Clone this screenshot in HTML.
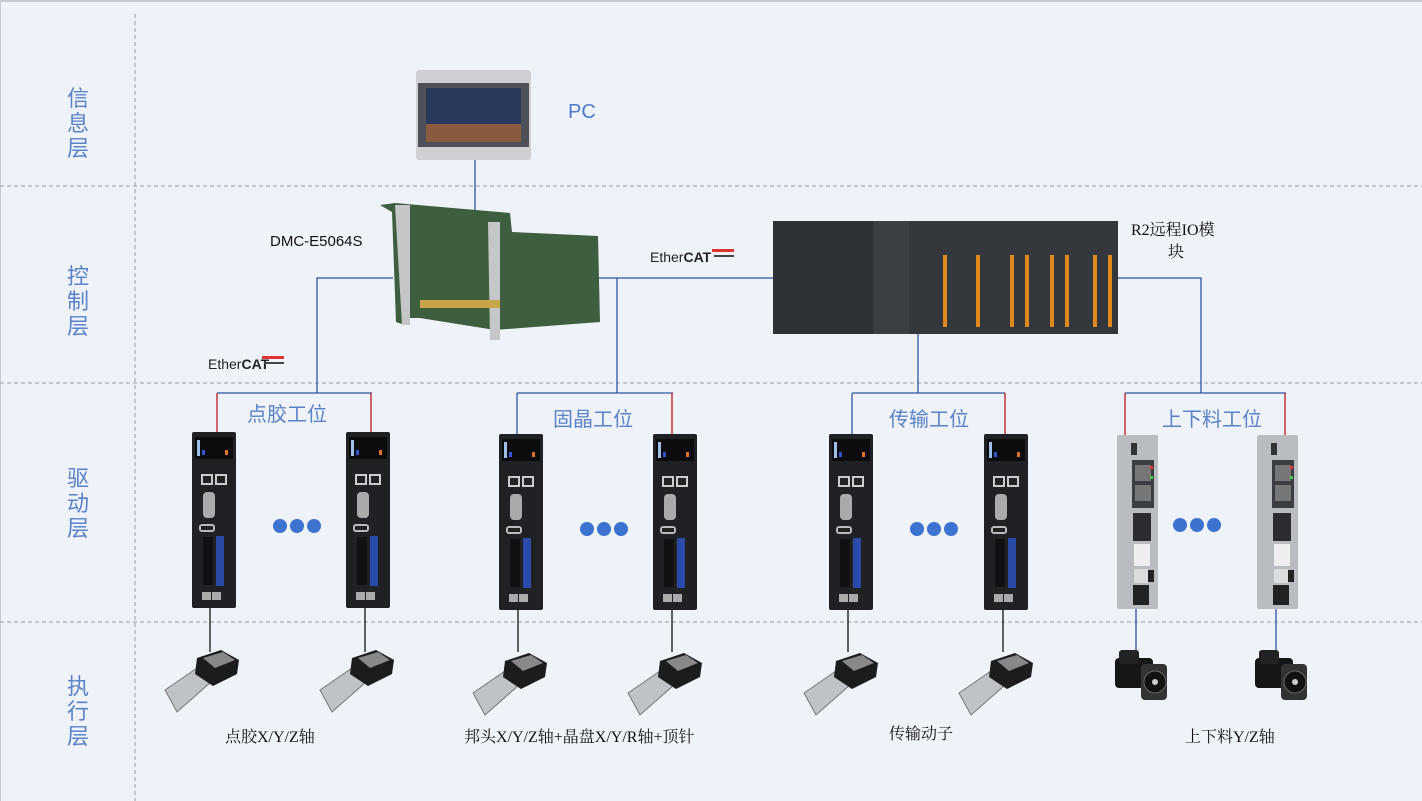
<!DOCTYPE html>
<html><head><meta charset="utf-8"><style>
html,body{margin:0;padding:0;background:#eef2f9;}
svg{display:block}
.lay{font-family:"Liberation Sans","Noto Sans CJK SC",sans-serif;font-size:22px;fill:#5b82c6;}
.st{font-family:"Liberation Sans","Noto Sans CJK SC",sans-serif;font-size:20px;fill:#5b82c6;}
.bl{font-family:"Liberation Serif","Noto Serif CJK SC",serif;font-size:16px;fill:#111;}
</style></head><body>
<svg width="1422" height="801" viewBox="0 0 1422 801" xmlns="http://www.w3.org/2000/svg">
<defs>
<g id="drv">
<rect x="0" y="0" width="44" height="176" rx="2" fill="#1f2124"/>
<rect x="3" y="5" width="38" height="22" fill="#0c0c0e"/>
<rect x="5" y="8" width="3" height="16" fill="#9fc0e8"/>
<rect x="10" y="18" width="3" height="5" fill="#3355cc"/>
<rect x="33" y="18" width="3" height="5" fill="#e0702a"/>
<rect x="9" y="42" width="12" height="11" fill="#ccc"/><rect x="23" y="42" width="12" height="11" fill="#ccc"/>
<rect x="11" y="44" width="8" height="7" fill="#222"/><rect x="25" y="44" width="8" height="7" fill="#222"/>
<rect x="11" y="60" width="12" height="26" rx="4" fill="#aaa"/>
<rect x="7" y="92" width="16" height="8" rx="3" fill="#bbb"/><rect x="9" y="94" width="12" height="4" fill="#222"/>
<rect x="11" y="105" width="10" height="48" fill="#111"/>
<rect x="24" y="104" width="8" height="50" fill="#2a4aa8"/>
<rect x="10" y="160" width="9" height="8" fill="#aaa"/><rect x="20" y="160" width="9" height="8" fill="#aaa"/>
</g>
<g id="io">
<rect x="0" y="0" width="41" height="174" rx="2" fill="#b9bcc0"/>
<rect x="14" y="8" width="6" height="12" fill="#333"/>
<rect x="15" y="25" width="22" height="48" fill="#3a3d42"/>
<rect x="18" y="30" width="16" height="16" fill="#777"/><rect x="18" y="50" width="16" height="16" fill="#777"/>
<rect x="33" y="31" width="3" height="3" fill="#e33"/><rect x="33" y="41" width="3" height="3" fill="#4c4"/>
<rect x="16" y="78" width="18" height="28" fill="#2a2c30"/>
<rect x="17" y="109" width="16" height="22" fill="#eee"/>
<rect x="17" y="134" width="14" height="14" fill="#ddd"/><rect x="31" y="135" width="6" height="12" fill="#222"/>
<rect x="16" y="150" width="16" height="20" fill="#222"/>
</g>
<g id="stg">
<polygon points="0,38 35,14 46,30 12,60" fill="#bfc2c6" stroke="#777" stroke-width="1"/>
<polygon points="32,6 56,-2 74,8 72,22 48,34 30,22" fill="#1c1c1e"/>
<polygon points="38,6 58,0 70,8 50,16" fill="#888"/>
</g>
<g id="mot">
<rect x="0" y="8" width="38" height="30" rx="4" fill="#161616"/>
<rect x="4" y="0" width="20" height="14" rx="3" fill="#222"/>
<rect x="26" y="14" width="26" height="36" rx="4" fill="#333"/>
<circle cx="40" cy="32" r="11" fill="#111" stroke="#666"/>
<circle cx="40" cy="32" r="3" fill="#ccc"/>
</g>
<g id="dots"><circle cx="0" cy="0" r="7" fill="#3d72d0"/><circle cx="17" cy="0" r="7" fill="#3d72d0"/><circle cx="34" cy="0" r="7" fill="#3d72d0"/></g>
</defs>
<rect x="0" y="0" width="1422" height="2" fill="#c8ccd2"/>
<rect x="0" y="0" width="1" height="801" fill="#c8ccd2"/>
<g stroke="#9a9ea4" stroke-dasharray="4,3" stroke-width="1">
<line x1="135" y1="14" x2="135" y2="801"/>
<line x1="0" y1="186" x2="1422" y2="186"/>
<line x1="0" y1="383" x2="1422" y2="383"/>
<line x1="0" y1="622" x2="1422" y2="622"/>
</g>
<g class="lay" text-anchor="middle">
<text x="78" y="106">信</text><text x="78" y="131">息</text><text x="78" y="156">层</text>
<text x="78" y="284">控</text><text x="78" y="309">制</text><text x="78" y="334">层</text>
<text x="78" y="486">驱</text><text x="78" y="511">动</text><text x="78" y="536">层</text>
<text x="78" y="694">执</text><text x="78" y="719">行</text><text x="78" y="744">层</text>
</g>
<!-- connectors -->
<g stroke="#2f54a3" stroke-width="1.3" fill="none">
<line x1="475" y1="160" x2="475" y2="210"/>
<polyline points="393,278 317,278 317,393"/>
<line x1="597" y1="278" x2="775" y2="278"/>
<line x1="617" y1="278" x2="617" y2="393"/>
<line x1="918" y1="333" x2="918" y2="393"/>
<polyline points="1117,278 1201,278 1201,393"/>
<line x1="217" y1="393" x2="372" y2="393"/>
<line x1="517" y1="393" x2="673" y2="393"/>
<line x1="852" y1="393" x2="1005" y2="393"/>
<line x1="1125" y1="393" x2="1286" y2="393"/>
<line x1="517" y1="393" x2="517" y2="434"/>
<line x1="852" y1="393" x2="852" y2="434"/>
<line x1="1136" y1="608" x2="1136" y2="650"/>
<line x1="1276" y1="608" x2="1276" y2="650"/>
</g>
<g stroke="#c0141c" stroke-width="1.3">
<line x1="217" y1="393" x2="217" y2="434"/>
<line x1="371" y1="393" x2="371" y2="434"/>
<line x1="672" y1="393" x2="672" y2="434"/>
<line x1="1005" y1="393" x2="1005" y2="434"/>
<line x1="1125" y1="393" x2="1125" y2="436"/>
<line x1="1285" y1="393" x2="1285" y2="436"/>
</g>
<g stroke="#111" stroke-width="1.3">
<line x1="210" y1="608" x2="210" y2="652"/><line x1="365" y1="608" x2="365" y2="652"/>
<line x1="518" y1="608" x2="518" y2="652"/><line x1="672" y1="608" x2="672" y2="652"/>
<line x1="848" y1="608" x2="848" y2="652"/><line x1="1003" y1="608" x2="1003" y2="652"/>
</g>
<!-- PC -->
<rect x="416" y="70" width="115" height="90" rx="3" fill="#cfd0d3"/>
<rect x="418" y="83" width="111" height="64" fill="#4d5056"/>
<rect x="426" y="88" width="95" height="54" fill="#2a3a5c"/>
<rect x="426" y="124" width="95" height="18" fill="#8a5a3e"/>
<text x="568" y="118" style="font-family:'Liberation Sans',sans-serif;font-size:20px;fill:#4d79c8">PC</text>
<!-- DMC card -->
<polygon points="380,205 395,203 510,213 512,232 598,236 600,322 495,330 420,318 405,318 405,325 396,322 392,212" fill="#3d5e3f"/>
<polygon points="395,205 410,205 410,325 402,325" fill="#c4c6c8"/>
<polygon points="488,222 500,222 500,340 490,340" fill="#c4c6c8"/>
<rect x="420" y="300" width="80" height="8" fill="#c9a64a"/>
<text x="270" y="246" style="font-family:'Liberation Sans',sans-serif;font-size:15px;fill:#111">DMC-E5064S</text>
<!-- EtherCAT -->
<g style="font-family:'Liberation Sans',sans-serif;font-size:14px;fill:#222">
<text x="650" y="262">Ether<tspan font-weight="bold">CAT</tspan></text>
<rect x="712" y="249" width="22" height="3" fill="#d33"/><rect x="714" y="255" width="20" height="2" fill="#444"/>
<text x="208" y="369">Ether<tspan font-weight="bold">CAT</tspan></text>
<rect x="262" y="356" width="22" height="3" fill="#d33"/><rect x="264" y="362" width="20" height="2" fill="#444"/>
</g>
<!-- R2 IO -->
<rect x="773" y="221" width="345" height="113" fill="#34373c"/>
<rect x="773" y="221" width="100" height="113" fill="#2e3135"/>
<rect x="874" y="221" width="35" height="113" fill="#3b3e43"/>
<g fill="#e08a1e">
<rect x="943" y="255" width="4" height="72"/><rect x="976" y="255" width="4" height="72"/>
<rect x="1010" y="255" width="4" height="72"/><rect x="1025" y="255" width="4" height="72"/>
<rect x="1050" y="255" width="4" height="72"/><rect x="1065" y="255" width="4" height="72"/>
<rect x="1093" y="255" width="4" height="72"/><rect x="1108" y="255" width="4" height="72"/>
</g>
<text x="1131" y="235" class="bl" style="font-size:16px">R2远程IO模</text>
<text x="1168" y="257" class="bl" style="font-size:16px">块</text>
<!-- stations -->
<g class="st"><text x="247" y="421">点胶工位</text><text x="553" y="426">固晶工位</text><text x="889" y="426">传输工位</text><text x="1162" y="426">上下料工位</text></g>
<use href="#drv" x="192" y="432"/><use href="#drv" x="346" y="432"/>
<use href="#drv" x="499" y="434"/><use href="#drv" x="653" y="434"/>
<use href="#drv" x="829" y="434"/><use href="#drv" x="984" y="434"/>
<use href="#io" x="1117" y="435"/><use href="#io" x="1257" y="435"/>
<use href="#dots" x="280" y="526"/><use href="#dots" x="587" y="529"/><use href="#dots" x="917" y="529"/><use href="#dots" x="1180" y="525"/>
<use href="#stg" x="165" y="652"/><use href="#stg" x="320" y="652"/>
<use href="#stg" x="473" y="655"/><use href="#stg" x="628" y="655"/>
<use href="#stg" x="804" y="655"/><use href="#stg" x="959" y="655"/>
<use href="#mot" x="1115" y="650"/><use href="#mot" x="1255" y="650"/>
<g class="bl"><text x="225" y="742">点胶X/Y/Z轴</text><text x="464" y="742">邦头X/Y/Z轴+晶盘X/Y/R轴+顶针</text><text x="889" y="739">传输动子</text><text x="1185" y="742">上下料Y/Z轴</text></g>
</svg>
</body></html>
